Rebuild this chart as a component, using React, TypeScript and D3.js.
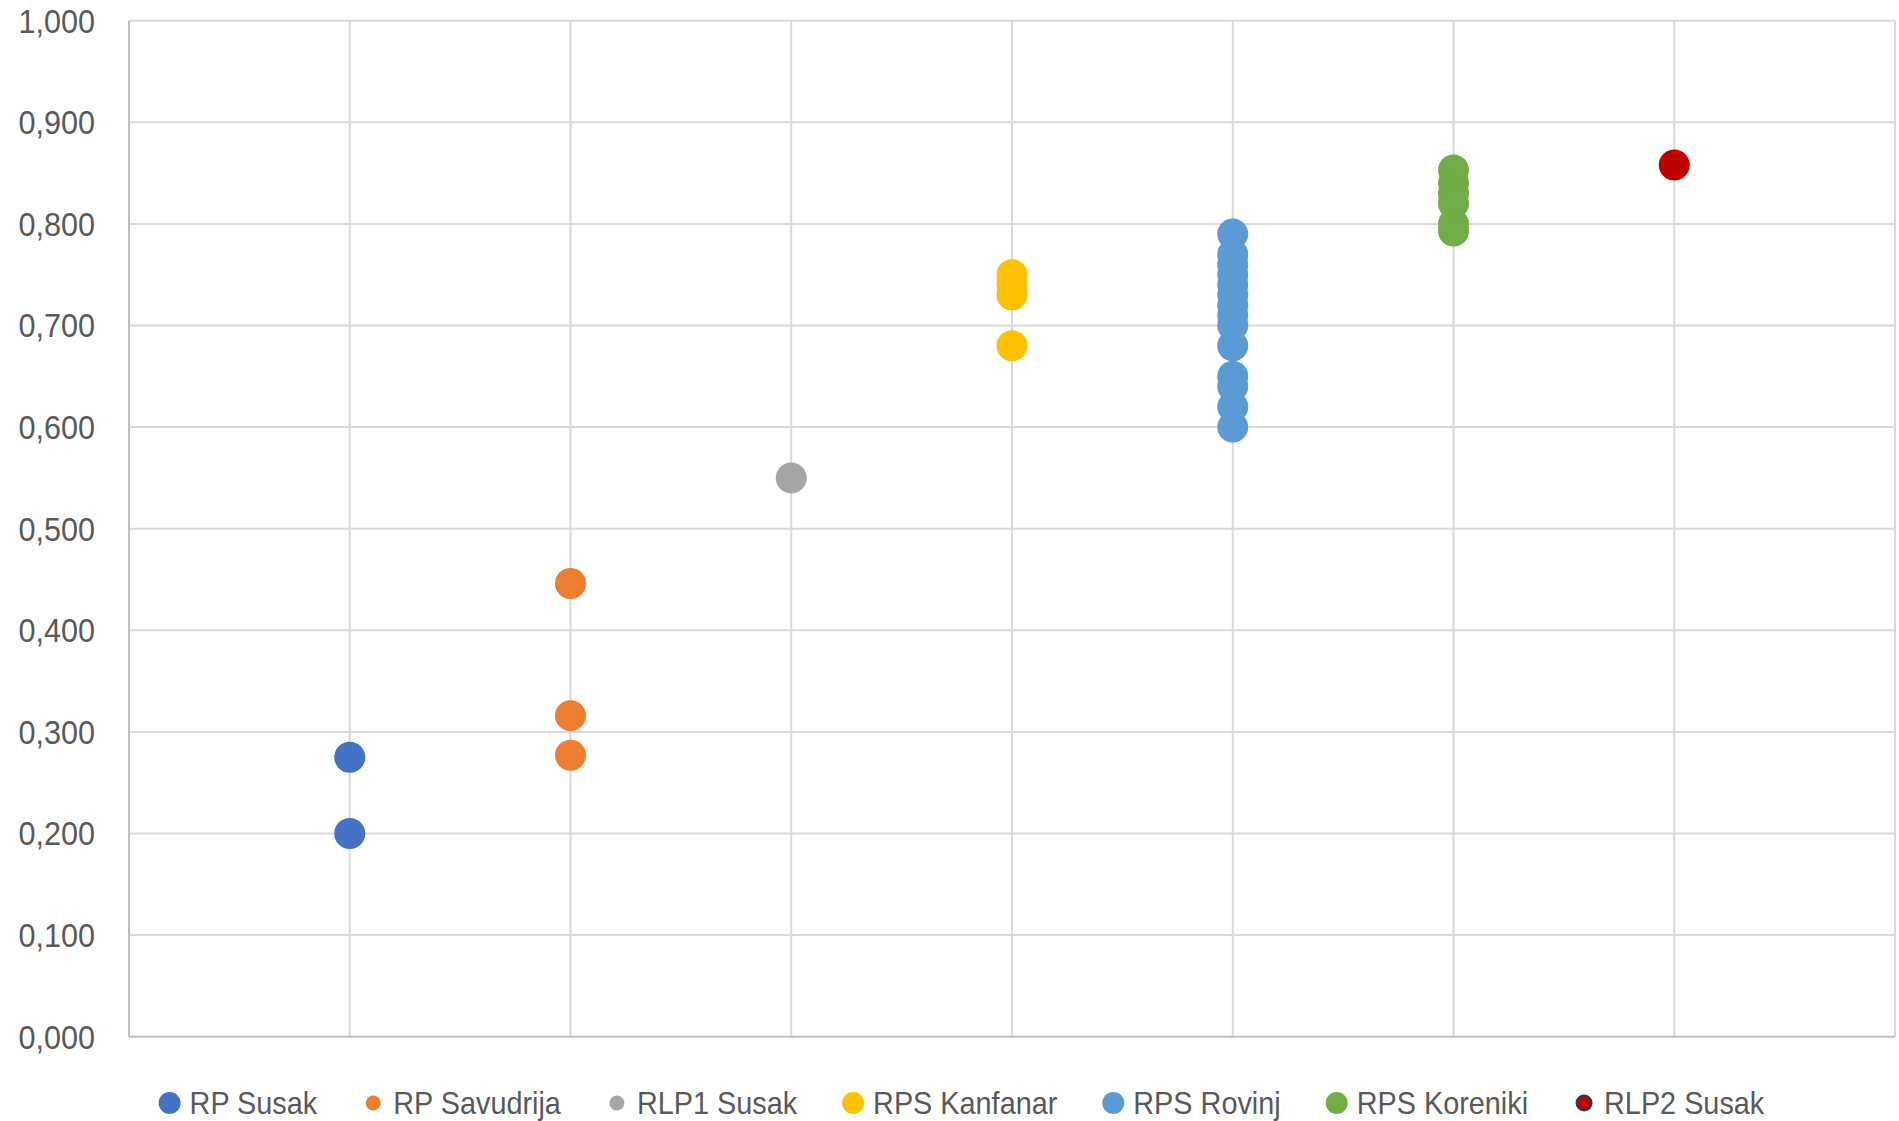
import React, { useRef, useEffect } from "react";
import * as d3 from "d3";

const seriesNames = [
  "RP Susak",
  "RP Savudrija",
  "RLP1 Susak",
  "RPS Kanfanar",
  "RPS Rovinj",
  "RPS Koreniki",
  "RLP2 Susak",
];
const seriesColors = ["#4472C4", "#ED7D31", "#A5A5A5", "#FFC000", "#5B9BD5", "#70AD47", "#C00000"];
const seriesX = [1, 2, 3, 4, 5, 6, 7];

const rpSusak = [0.275, 0.2];
const rpSavudrija = [0.446, 0.316, 0.277];
const rlp1Susak = [0.55];
const rpsKanfanar = [0.75, 0.74, 0.73, 0.68];
const rpsRovinj = [0.79, 0.77, 0.76, 0.75, 0.74, 0.73, 0.72, 0.71, 0.7, 0.68, 0.65, 0.64, 0.62, 0.6];
const rpsKoreniki = [0.853, 0.84, 0.83, 0.82, 0.8, 0.793];
const rlp2Susak = [0.858];

const seriesValues = [rpSusak, rpSavudrija, rlp1Susak, rpsKanfanar, rpsRovinj, rpsKoreniki, rlp2Susak];
const legendRadius = [11, 7.5, 7.5, 11, 11, 11, 7.5];

const yTicks = [0, 0.1, 0.2, 0.3, 0.4, 0.5, 0.6, 0.7, 0.8, 0.9, 1.0];
const xGrid = [1, 2, 3, 4, 5, 6, 7, 8];

const W = 1899;
const H = 1121;
const FONT = "'Liberation Sans', Arial, sans-serif";
const SQUISH = 0.9;
const LEGEND_SQUISH = 0.93;

const App = () => {
  const svgRef = useRef<SVGSVGElement>(null);

  useEffect(() => {
    const svg = d3.select(svgRef.current);
    svg.selectAll("*").remove();

    const x = d3.scaleLinear().domain([0, 8]).range([129, 1895]);
    const y = d3.scaleLinear().domain([0, 1]).range([1036.7, 20.7]);

    // gridlines
    svg
      .append("g")
      .selectAll("line")
      .data(yTicks.filter((t) => t > 0))
      .join("line")
      .attr("x1", x(0))
      .attr("x2", x(8))
      .attr("y1", (d) => y(d))
      .attr("y2", (d) => y(d))
      .attr("stroke", "#D9D9D9")
      .attr("stroke-width", 2);

    svg
      .append("g")
      .selectAll("line")
      .data(xGrid)
      .join("line")
      .attr("x1", (d) => x(d))
      .attr("x2", (d) => x(d))
      .attr("y1", y(1))
      .attr("y2", y(0))
      .attr("stroke", "#D9D9D9")
      .attr("stroke-width", 2);

    // axes lines
    svg
      .append("line")
      .attr("x1", x(0))
      .attr("x2", x(8))
      .attr("y1", y(0))
      .attr("y2", y(0))
      .attr("stroke", "#BFBFBF")
      .attr("stroke-width", 2);
    svg
      .append("line")
      .attr("x1", x(0))
      .attr("x2", x(0))
      .attr("y1", y(1))
      .attr("y2", y(0))
      .attr("stroke", "#BFBFBF")
      .attr("stroke-width", 2);

    // y tick labels
    const fmt = (v: number) => v.toFixed(3).replace(".", ",");
    svg
      .append("g")
      .selectAll("text")
      .data(yTicks)
      .join("text")
      .attr("transform", (d) => `translate(95,${y(d)}) scale(${SQUISH},1)`)
      .attr("dy", "0.35em")
      .attr("text-anchor", "end")
      .attr("font-family", FONT)
      .attr("font-size", 34)
      .attr("fill", "#595959")
      .text(fmt);

    // points
    seriesValues.forEach((vals, i) => {
      svg
        .append("g")
        .selectAll("circle")
        .data(vals)
        .join("circle")
        .attr("cx", x(seriesX[i]))
        .attr("cy", (d) => y(d))
        .attr("r", 15.5)
        .attr("fill", seriesColors[i]);
    });

    // legend
    const legend = svg.append("g").attr("transform", "translate(0,1103)");
    let cx = 169.6;
    seriesNames.forEach((name, i) => {
      legend
        .append("circle")
        .attr("cx", cx)
        .attr("cy", 0)
        .attr("r", legendRadius[i])
        .attr("fill", seriesColors[i])
        .attr("stroke", i === 6 ? "#203864" : "none")
        .attr("stroke-width", 2);
      const t = legend
        .append("text")
        .attr("transform", `translate(${cx + 20},0) scale(${LEGEND_SQUISH},1)`)
        .attr("dy", "0.35em")
        .attr("font-family", FONT)
        .attr("font-size", 31)
        .attr("fill", "#595959")
        .text(name);
      const w = (t.node() as SVGTextElement).getComputedTextLength() * LEGEND_SQUISH;
      cx = cx + 20 + w + 56;
    });
  }, []);

  return (
    <div style={{ position: "absolute", left: 0, top: 0 }}>
      <svg ref={svgRef} width={W} height={H} style={{ display: "block", background: "#fff" }} />
    </div>
  );
};

export default App;
